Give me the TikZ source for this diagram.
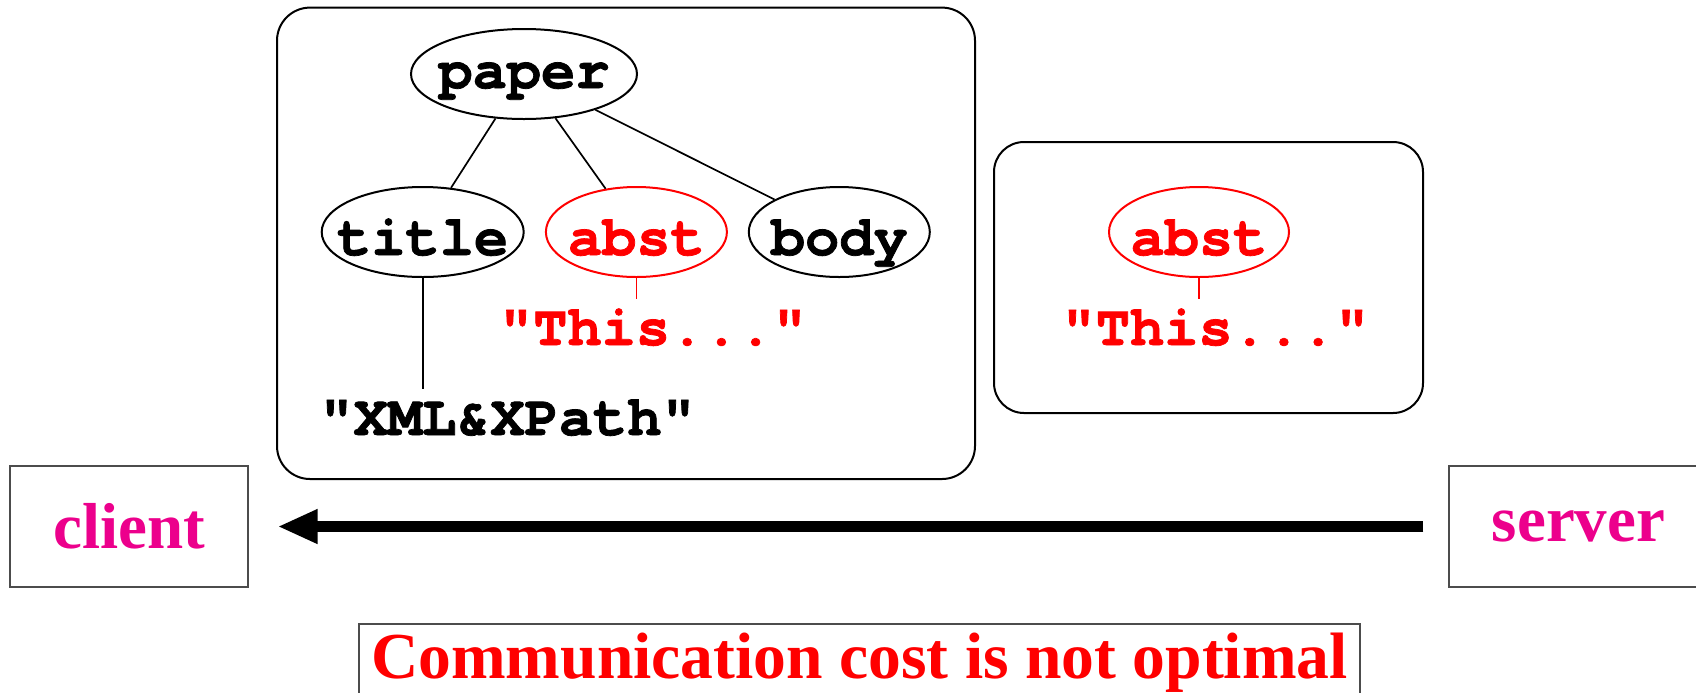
\documentclass[tikz,border=0pt]{standalone}
\usepackage{fontspec}
\setmainfont{Liberation Serif}
\newfontfamily\cour{TeX Gyre Cursor}[BoldFeatures={FakeBold=1.3}]
\usetikzlibrary{shapes.geometric,arrows.meta}
\definecolor{mag}{RGB}{236,0,140}
\newcommand\zw[1]{\makebox[0pt]{#1}}

\begin{document}
\begin{tikzpicture}[x=0.5pt,y=-0.5pt,
    elem/.style={ellipse,draw,line width=1pt,inner sep=0pt,minimum height=45pt,
      text height=23pt,text depth=0pt,font=\cour\bfseries\fontsize{28.5pt}{30pt}\selectfont},
    hot/.style={draw=red,text=red},
    str/.style={anchor=base,inner sep=0pt,text height=23pt,text depth=0pt,
      font=\cour\bfseries\fontsize{28.5pt}{30pt}\selectfont},
    host/.style={draw=black!70,line width=0.6pt,minimum height=60.5pt,text=mag,
      font=\bfseries\fontsize{32.5pt}{34pt}\selectfont},
    edge/.style={line width=0.85pt}]
  \useasboundingbox (0,0) rectangle (1696,692);
  \clip (0,0) rectangle (1696,692);

  % whole document at the client
  \draw[line width=1pt,rounded corners=16.5pt] (277,7.6) rectangle (975,479);
  \node[elem,minimum width=113pt,text height=14pt] (paper) at (524,74) {\zw{paper}};
  \node[elem,minimum width=101pt] (title) at (422.7,232) {\zw{title}};
  \node[elem,hot,minimum width=90.5pt] (abst) at (636.4,232) {\zw{abst}};
  \node[elem,minimum width=90.5pt] (body) at (839.3,232) {\zw{body}};
  \node[str] (xml) at (507.6,435) {"XML\&XPath"};
  \node[str,text=red] (this) at (653,345) {"This..."};
  \draw[edge] (paper) -- (title);
  \draw[edge] (paper) -- (abst);
  \draw[edge] (paper) -- (body);
  \draw[edge] (title) -- (title |- xml.north);
  \draw[edge,red] (abst) -- (abst |- this.north);

  % answer from the server
  \draw[line width=1pt,rounded corners=15pt] (994,142) rectangle (1423,413);
  \node[elem,hot,minimum width=90pt] (abstR) at (1199,232) {\zw{abst}};
  \node[str,text=red] (thisR) at (1215.5,345) {"This..."};
  \draw[edge,red] (abstR) -- (abstR |- thisR.north);

  \node[host,minimum width=119pt] (client) at (129,526.5) {client};
  \node[host,minimum width=129.5pt] (server) at (1578.5,526.5) {server};
  \draw[line width=5.5pt,-{Triangle[length=20pt,width=16pt]},
    shorten <=12.5pt,shorten >=14.5pt] (server) -- (client);

  \node[anchor=base,draw=black!70,line width=0.6pt,inner sep=0pt,minimum width=500.5pt,
    text height=27pt,text depth=20pt,text=red,font=\bfseries\fontsize{32.8pt}{35pt}\selectfont]
    (cost) at (859.5,678) {Communication cost is not optimal};
\end{tikzpicture}
\end{document}
